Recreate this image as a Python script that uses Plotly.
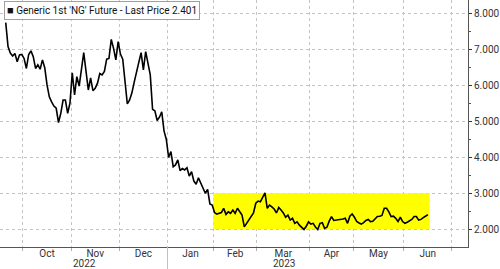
import pandas as pd
import plotly.graph_objects as go

# ---------------- data ----------------
start_date = "2022-09-21"
calendar_end = "2023-07-20"
holidays = ["2022-11-24", "2022-12-26", "2023-01-02", "2023-01-16", "2023-02-20",
            "2023-04-07", "2023-05-29", "2023-06-19", "2023-07-04"]

prices_sep22 = [7.76, 7.09, 6.91, 6.83, 6.90, 6.67, 6.86, 6.87]
prices_oct22 = [6.76, 6.48, 6.87, 6.97, 6.81, 6.48, 6.58, 6.46, 6.72, 6.50, 6.02,
                5.69, 5.55, 5.43, 5.37, 4.97, 5.23, 5.60, 5.60, 5.23, 5.51]
prices_nov22 = [6.36, 5.74, 6.25, 5.99, 6.39, 6.92, 6.40, 5.88, 6.22, 5.86, 5.93,
                6.07, 6.34, 6.30, 6.40, 6.74, 6.76, 7.29, 7.04, 6.72, 7.23]
prices_dec22 = [6.88, 6.74, 6.02, 5.49, 5.60, 5.80, 6.10, 6.34, 6.65, 6.92, 6.44,
                6.95, 6.65, 6.30, 5.34, 5.30, 5.03, 5.12, 5.27, 4.74, 4.50]
prices_jan23 = [4.00, 4.16, 3.74, 3.79, 3.93, 3.63, 3.69, 3.65, 3.71, 3.48, 3.60,
                3.34, 3.25, 3.43, 3.27, 3.13, 3.00, 3.11, 2.70, 2.67]
prices_feb23 = [2.46, 2.42, 2.44, 2.46, 2.58, 2.41, 2.48, 2.44, 2.53, 2.44, 2.58,
                2.48, 2.39, 2.06, 2.16, 2.27, 2.36, 2.45, 2.72]
prices_mar23 = [2.78, 2.76, 2.90, 3.01, 2.58, 2.67, 2.62, 2.56, 2.45, 2.60, 2.53,
                2.45, 2.33, 2.39, 2.25, 2.30, 2.16, 2.20, 2.11, 2.06, 1.99, 2.08, 2.20]
prices_apr23 = [2.14, 2.16, 2.06, 1.99, 2.16, 2.18, 2.02, 2.05, 2.22, 2.35, 2.24,
                2.25, 2.24, 2.27, 2.28, 2.30, 2.16, 2.36, 2.42]
prices_may23 = [2.33, 2.21, 2.17, 2.14, 2.18, 2.24, 2.27, 2.21, 2.22, 2.28, 2.35,
                2.36, 2.38, 2.58, 2.58, 2.48, 2.35, 2.36, 2.30, 2.21, 2.33, 2.21]
prices_jun23 = [2.16, 2.19, 2.23, 2.27, 2.35, 2.35, 2.25, 2.27, 2.32, 2.36, 2.401]

series_name = "Generic 1st 'NG' Future"
band_low, band_high = 2.0, 3.0
y_ticks = [2, 3, 4, 5, 6, 7, 8]
y_minor_ticks = [2.5, 3.5, 4.5, 5.5, 6.5, 7.5]
year_labels = ["2022", "2023"]

prices = (prices_sep22 + prices_oct22 + prices_nov22 + prices_dec22 + prices_jan23 +
          prices_feb23 + prices_mar23 + prices_apr23 + prices_may23 + prices_jun23)

# ---------------- trading-day calendar -> index axis ----------------
cal = pd.bdate_range(start_date, calendar_end, freq="C", holidays=holidays)
x_idx = list(range(len(prices)))

boundaries = []          # month boundaries (between trading days)
month_first = []
for i in range(1, len(cal)):
    if cal[i].month != cal[i - 1].month:
        boundaries.append(i - 0.5)
        month_first.append(cal[i])
label_pos, label_txt = [], []
for k in range(len(boundaries) - 1):
    label_pos.append((boundaries[k] + boundaries[k + 1]) / 2)
    label_txt.append(month_first[k].strftime("%b"))
year_boundary = [b for b, d in zip(boundaries, month_first) if d.month == 1][0]
feb_boundary = [b for b, d in zip(boundaries, month_first) if d.month == 2][0]

x_range = [-2.5, 201.5]
y_range = [1.5, 8.39]
FONT = "Liberation Sans Narrow, Arial Narrow, Roboto, sans-serif"

fig = go.Figure()
fig.add_trace(go.Scatter(x=x_idx, y=prices, mode="lines",
                         line=dict(color="#000000", width=1.6),
                         name=series_name, showlegend=False, hoverinfo="skip"))

# yellow range box
fig.add_shape(type="rect", xref="x", yref="y",
              x0=feb_boundary, x1=len(prices) - 1 + 0.8, y0=band_low, y1=band_high,
              fillcolor="#FFFF00", line=dict(width=0), layer="between")

# year separator
fig.add_shape(type="line", xref="x", yref="paper", x0=year_boundary, x1=year_boundary,
              y0=0, y1=-0.1, line=dict(color="#c0c0c0", width=1))

# year labels
year_x = [(x_range[0] + year_boundary) / 2 + 0.5, 121.5]
for yl, xp in zip(year_labels, year_x):
    fig.add_annotation(x=xp, y=0, xref="x", yref="paper", text=yl, showarrow=False,
                       yanchor="middle", yshift=-16, borderpad=0,
                       font=dict(family=FONT, size=10, color="#333"))

# legend-like box
fig.add_annotation(x=0, y=1, xref="paper", yref="paper", xanchor="left", yanchor="top",
                   xshift=4, yshift=-1, showarrow=False,
                   text="<span style='font-size:11px'>■</span> " + series_name +
                        " - Last Price " + f"{prices[-1]:.3f}",
                   font=dict(family=FONT, size=10, color="#111"),
                   bgcolor="#ffffff", bordercolor="#a0a0a0", borderwidth=1, borderpad=2)

fig.update_layout(
    width=500, height=269,
    margin=dict(l=0, r=32, t=0, b=22),
    paper_bgcolor="#ffffff", plot_bgcolor="#ffffff",
    font=dict(family=FONT, size=10, color="#333"),
    xaxis=dict(range=x_range, tickmode="array", tickvals=label_pos, ticktext=label_txt,
               ticks="", showgrid=False, zeroline=False, showline=True,
               linecolor="#555555", linewidth=1, ticklabelstandoff=-3,
               tickfont=dict(family=FONT, size=10, color="#333"),
               minor=dict(tickmode="array", tickvals=boundaries, showgrid=True,
                          gridcolor="#c4c4c4", griddash="dot", gridwidth=1,
                          ticks="outside", ticklen=3, tickcolor="#b0b0b0")),
    yaxis=dict(range=y_range, side="right", tickmode="array", tickvals=y_ticks,
               tickformat=".3f", ticks="outside", ticklen=3, tickwidth=1,
               tickcolor="#333", showline=True, linecolor="#555555", linewidth=1,
               showgrid=True, gridcolor="#c4c4c4", griddash="dot", gridwidth=1,
               zeroline=False, tickfont=dict(family=FONT, size=10, color="#333"),
               minor=dict(tickmode="array", tickvals=y_minor_ticks, ticks="outside",
                          ticklen=2, tickcolor="#555", showgrid=False)),
)

fig.write_html("out.html")
